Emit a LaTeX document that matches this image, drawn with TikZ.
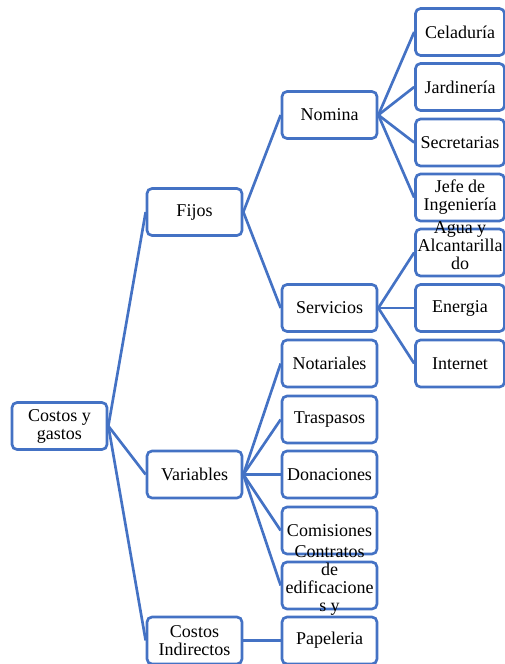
\documentclass[tikz,border=0pt]{standalone}
\usepackage{fontspec}
\setmainfont{Liberation Serif}
\definecolor{boxblue}{RGB}{68,114,196}
\newcommand{\spill}[1]{\smash{\begin{tabular}{@{}c@{}}#1\end{tabular}}}

\begin{document}
\begin{tikzpicture}[x=0.75pt,y=-0.75pt,
    box/.style={draw=boxblue,line width=2pt,rounded corners=3.75pt,fill=white,
      minimum width=71.25pt,minimum height=35.25pt,inner sep=1pt,align=center,
      font=\fontsize{13.5}{13.5}\selectfont},
    leaf/.style={box,minimum width=66.75pt},
    link/.style={draw=boxblue,line width=2pt}]
  \useasboundingbox (0,0) rectangle (505,664);
  \node[box] (costos) at (59.5,426) {Costos y\\gastos};
  \node[box] (fijos) at (194.5,212) {Fijos};
  \node[box] (variables) at (194.5,474.5) {Variables};
  \node[box] (indirectos) at (194.5,640.5) {Costos\\Indirectos};
  \node[box] (nomina) at (329.5,115) {Nomina};
  \node[box] (servicios) at (329.5,308) {Servicios};
  \node[box] (notariales) at (329.5,363.5) {Notariales};
  \node[box] (traspasos) at (329.5,419.5) {Traspasos};
  \node[box] (donaciones) at (329.5,474.5) {Donaciones};
  \node[box] (comisiones) at (329.5,530.5) {Comisiones};
  \node[box] (contratos) at (329.5,585.5) {\spill{Contratos\\de\\edificacione\\s y}};
  \node[box] (papeleria) at (329.5,640.5) {Papeleria};
  \node[leaf] (celaduria) at (460,32) {Celaduría};
  \node[leaf] (jardineria) at (460,87) {Jardinería};
  \node[leaf] (secretarias) at (460,142.5) {Secretarias};
  \node[leaf] (jefe) at (460,197.5) {Jefe de\\Ingeniería};
  \node[leaf] (agua) at (460,252.5) {\spill{Agua y\\Alcantarilla\\do}};
  \node[leaf] (energia) at (460,308) {Energia};
  \node[leaf] (internet) at (460,363.5) {Internet};
  \foreach \a/\b in {costos/fijos,costos/variables,costos/indirectos,
      fijos/nomina,fijos/servicios,
      nomina/celaduria,nomina/jardineria,nomina/secretarias,nomina/jefe,
      servicios/agua,servicios/energia,servicios/internet,
      variables/notariales,variables/traspasos,variables/donaciones,
      variables/comisiones,variables/contratos,indirectos/papeleria}
    \draw[link] (\a.east) -- (\b.west);
\end{tikzpicture}
\end{document}
